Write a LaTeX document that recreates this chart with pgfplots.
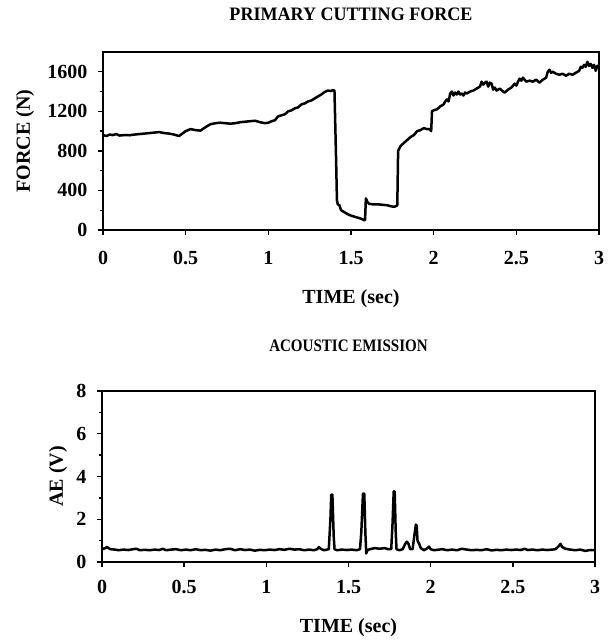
\documentclass[border=0pt]{standalone}
\usepackage{fontspec}
\setmainfont{Liberation Serif}
\usepackage{pgfplots}
\pgfplotsset{compat=1.18}
\pgfplotsset{
  ch/.style={
    scale only axis,
    anchor=south west,
    xmin=0, xmax=3,
    xtick={0,0.5,1,1.5,2,2.5,3},
    xticklabels={0,0.5,1,1.5,2,2.5,3},
    tick align=outside,
    xtick pos=bottom, ytick pos=left,
    major tick length=5pt, minor tick length=3pt,
    tick style={line width=1.4pt, black},
    axis line style={line width=2pt},
    minor y tick num=1,
    /pgf/number format/assume math mode=true,
    /pgf/number format/1000 sep={},
    ticklabel style={font=\fontsize{20}{20}\selectfont\bfseries},
    yticklabel style={xshift=-7pt},
    label style={font=\fontsize{20}{20}\selectfont\bfseries},
    title style={font=\fontsize{19}{19}\selectfont\bfseries},
  }
}
\begin{document}
\begin{tikzpicture}[x=1pt,y=1pt]
\useasboundingbox (0,0) rectangle (613,642);
% ---------- top ----------
\begin{axis}[ch,
  at={(103pt,412pt)}, width=496pt, height=178pt,
  ymin=0, ymax=1800, ytick={0,400,800,1200,1600},
  xticklabel style={yshift=-13pt},
  title={\scalebox{0.95}[1]{PRIMARY CUTTING FORCE}},
  title style={at={(axis description cs:0.5,1.18)}, anchor=center},
  xlabel={TIME (sec)},
  xlabel style={at={(axis description cs:0.5,-0.385)}, anchor=center},
  ylabel={FORCE (N)},
  ylabel style={at={(axis description cs:-0.157,0.5)}, anchor=center, rotate=0},
]
\addplot[black, line width=2.5pt, line join=round] coordinates {
(0.00,960)(0.02,950)(0.04,965)(0.06,960)(0.08,970)(0.10,955)(0.13,960)(0.16,958)
(0.19,965)(0.22,970)(0.25,975)(0.28,980)(0.31,985)(0.34,990)(0.37,980)(0.40,975)
(0.43,965)(0.46,950)(0.48,975)(0.50,1000)(0.53,1020)(0.56,1010)(0.59,1005)(0.62,1040)
(0.65,1070)(0.68,1080)(0.71,1085)(0.74,1080)(0.77,1075)(0.80,1080)(0.83,1090)(0.86,1095)
(0.89,1100)(0.92,1105)(0.95,1090)(0.98,1080)(1.00,1085)(1.02,1100)(1.04,1110)(1.06,1150)
(1.08,1160)(1.10,1170)(1.12,1200)(1.14,1210)(1.16,1230)(1.18,1240)(1.20,1270)(1.22,1280)
(1.24,1300)(1.26,1310)(1.28,1330)(1.30,1350)(1.32,1370)(1.34,1395)(1.36,1410)(1.38,1405)
(1.39,1415)(1.40,1410)(1.41,700)(1.415,300)(1.42,260)(1.43,250)(1.44,200)(1.46,180)
(1.48,160)(1.50,145)(1.52,135)(1.54,125)(1.56,115)(1.58,100)(1.585,100)(1.59,320)
(1.60,280)(1.61,265)(1.63,260)(1.66,260)(1.69,255)(1.72,250)(1.74,240)(1.76,235)
(1.77,240)(1.78,250)(1.785,800)(1.80,850)(1.82,880)(1.84,910)(1.86,940)(1.88,960)
(1.90,1000)(1.92,1010)(1.94,1030)(1.96,1020)(1.975,1020)(1.985,1000)(1.99,1200)(2.00,1210)
(2.02,1220)(2.04,1250)(2.06,1270)(2.07,1300)(2.08,1320)(2.09,1300)(2.10,1380)(2.11,1400)
(2.12,1360)(2.13,1390)(2.14,1370)(2.15,1400)(2.16,1370)(2.17,1380)(2.18,1360)(2.19,1390)
(2.20,1380)(2.22,1400)(2.24,1410)(2.26,1430)(2.28,1450)(2.29,1500)(2.30,1470)(2.31,1490)
(2.32,1500)(2.33,1450)(2.34,1490)(2.35,1480)(2.36,1420)(2.37,1440)(2.38,1410)(2.40,1430)
(2.42,1400)(2.43,1390)(2.45,1420)(2.47,1440)(2.49,1480)(2.50,1460)(2.51,1500)(2.52,1530)
(2.53,1510)(2.54,1540)(2.55,1520)(2.56,1500)(2.58,1510)(2.60,1500)(2.62,1520)(2.64,1490)
(2.66,1520)(2.68,1540)(2.69,1600)(2.70,1620)(2.71,1590)(2.72,1600)(2.74,1580)(2.76,1570)
(2.78,1580)(2.80,1560)(2.82,1580)(2.84,1570)(2.86,1590)(2.88,1610)(2.89,1650)(2.90,1640)
(2.91,1670)(2.92,1650)(2.93,1700)(2.94,1660)(2.95,1680)(2.96,1640)(2.97,1670)(2.98,1610)
(2.99,1660)(3.00,1650)
};
\end{axis}
% ---------- bottom ----------
\begin{axis}[ch,
  at={(102pt,80pt)}, width=493pt, height=171pt,
  ymin=0, ymax=8, ytick={0,2,4,6,8},
  xticklabel style={yshift=-10pt},
  title={\scalebox{0.86}[1]{ACOUSTIC EMISSION}},
  title style={at={(axis description cs:0.5,1.228)}, anchor=center, font=\fontsize{17.5}{17.5}\selectfont\bfseries},
  xlabel={TIME (sec)},
  xlabel style={at={(axis description cs:0.5,-0.386)}, anchor=center},
  ylabel={AE (V)},
  ylabel style={at={(axis description cs:-0.089,0.5)}, anchor=center, rotate=0},
]
\addplot[black, line width=2.5pt, line join=round] coordinates {
(0.00,0.60)(0.02,0.65)(0.03,0.70)(0.05,0.60)(0.08,0.58)(0.10,0.55)(0.13,0.58)(0.16,0.56)
(0.19,0.60)(0.21,0.62)(0.23,0.55)(0.26,0.57)(0.29,0.55)(0.32,0.58)(0.35,0.56)(0.37,0.62)
(0.39,0.55)(0.42,0.58)(0.45,0.60)(0.48,0.55)(0.51,0.58)(0.54,0.55)(0.57,0.60)(0.60,0.55)
(0.63,0.57)(0.66,0.53)(0.69,0.58)(0.72,0.55)(0.75,0.60)(0.78,0.62)(0.81,0.55)(0.84,0.60)
(0.87,0.56)(0.90,0.58)(0.93,0.53)(0.96,0.57)(0.99,0.55)(1.02,0.58)(1.05,0.56)(1.08,0.60)
(1.11,0.57)(1.14,0.62)(1.17,0.58)(1.20,0.60)(1.23,0.55)(1.26,0.58)(1.29,0.55)(1.31,0.60)
(1.32,0.70)(1.33,0.62)(1.35,0.55)(1.37,0.58)(1.38,0.60)(1.39,2.0)(1.395,3.15)(1.402,3.15)
(1.41,1.2)(1.415,0.60)(1.43,0.55)(1.46,0.58)(1.49,0.56)(1.52,0.58)(1.55,0.55)(1.57,0.60)
(1.578,1.4)(1.588,3.2)(1.596,3.2)(1.603,1.3)(1.608,0.40)(1.615,0.55)(1.63,0.60)(1.66,0.65)
(1.69,0.62)(1.72,0.65)(1.74,0.60)(1.76,0.60)(1.768,1.8)(1.775,3.3)(1.781,3.3)(1.787,1.5)
(1.792,0.60)(1.81,0.55)(1.83,0.60)(1.845,0.85)(1.855,0.95)(1.865,0.85)(1.875,0.60)(1.89,0.60)
(1.90,1.2)(1.91,1.75)(1.915,1.7)(1.92,1.0)(1.93,0.85)(1.94,0.65)(1.96,0.55)(1.98,0.65)
(1.99,0.72)(2.00,0.60)(2.02,0.55)
(2.05,0.58)(2.07,0.60)(2.10,0.55)(2.13,0.58)(2.16,0.55)(2.19,0.62)(2.22,0.58)(2.25,0.55)
(2.28,0.57)(2.31,0.55)(2.34,0.60)(2.37,0.54)(2.40,0.57)(2.43,0.55)(2.46,0.58)(2.49,0.56)
(2.52,0.58)(2.55,0.56)(2.57,0.62)(2.59,0.56)(2.62,0.58)(2.65,0.55)(2.68,0.58)(2.71,0.56)
(2.74,0.58)(2.76,0.60)(2.78,0.75)(2.79,0.85)(2.80,0.70)(2.82,0.62)(2.85,0.58)(2.88,0.55)
(2.91,0.58)(2.94,0.52)(2.97,0.56)(3.00,0.55)
};
\end{axis}
\end{tikzpicture}
\end{document}
